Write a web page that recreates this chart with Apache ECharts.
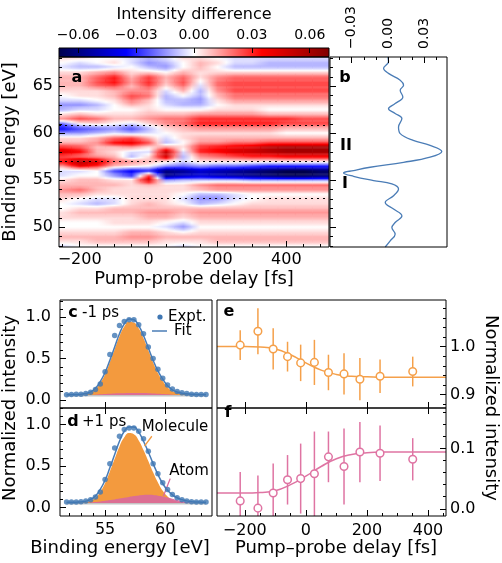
<!DOCTYPE html>
<html><head><meta charset="utf-8">
<script src="https://cdn.jsdelivr.net/npm/echarts@6/dist/echarts.min.js"></script>
<style>html,body{margin:0;padding:0;background:#fff}#chart{width:502px;height:563px}</style>
</head><body><div id="chart"></div>
<script>
// ---------------- DATA ----------------
// Panel a: delay columns (fs), energy rows (eV), difference in units of 0.01
const heatDelays = [-250,-200,-150,-100,-50,0,50,100,150,200,250,300,350,400,450,500];
const heatEnergies = [68.0,67.5,67.0,66.5,66.0,65.5,65.0,64.5,64.0,63.5,63.0,62.5,62.0,61.5,61.0,60.5,60.0,59.5,59.0,58.5,58.0,57.5,57.0,56.5,56.0,55.5,55.0,54.5,54.0,53.5,53.0,52.5,52.0,51.5,51.0,50.5,50.0,49.5,49.0,48.5,48.0];
const heatRows = [
 [0.5,0.5,0,0,-0.5,-1,-0.5,0.5,0.5,0,-0.5,-0.5,-0.5,-0.5,-0.5,-0.5],
 [0,-0.5,0,0.5,-0.5,-1.5,-1,0,1,0.5,-0.5,-0.5,-1,-1,-1,-1],
 [-0.5,-1,-1,-0.5,0,-1,-1.5,0,1,0,-1,-1,-1,-1,-1,-1],
 [0.5,0.5,1,1.5,0.5,0.5,0,1,0.5,0.5,0.5,0.5,0.5,0.5,0.5,0.5],
 [1,1,2,3,1,2.5,1,2,0.5,1.5,2,2,2,2,2,2],
 [1,1,2.5,3.5,1.5,3,1,2.5,0,2,2.5,2.5,2.5,2.5,2.5,2.5],
 [1,1,2,2.5,1,2.5,0.5,2,-0.5,2,2.5,2.5,2.5,2.5,2.5,2.5],
 [0.5,0.5,0.5,1,1.5,1.5,-0.5,1,-1,1.5,2.5,2.5,2.5,2.5,2.5,2.5],
 [0,0.5,0.5,1,2.5,2,-1,0,-1,1,2,2,2,2,2,2],
 [-0.5,-0.5,0,0.5,2,1,-1,-1,-1.5,0.5,1.5,1.5,1.5,1.5,1.5,1.5],
 [-1.5,-1.5,-1,0,1,0.5,-0.5,-1,-1,0,0.5,0.5,0.5,0.5,0.5,0.5],
 [-1,-0.5,-0.5,0,0,0.5,0,0,0,0.5,0.5,0.5,0,0,0,0],
 [0.5,1,0.5,0.5,0.5,1,1,1,1.5,1.5,1.5,1.5,1,1,1,1],
 [1.5,2.5,2,1,1,1.5,2,2,3,3,3,3,3,3,2.5,2.5],
 [-2,0,0.5,0,-0.5,0.5,1.5,2,3,3,3,3,3,2.5,2.5,2.5],
 [-3.5,-2.5,-2,-1.5,-2.5,-1,0.5,1,1.5,1.5,1.5,1.5,1.5,1,1,1],
 [-1.5,-1.5,-1,-0.5,-1,-0.5,0,0.5,0.5,0.5,0.5,0.5,0.5,0,0,0],
 [0.5,0.5,1,2,2.5,1,-0.5,0.5,1,1,1,1,1,1,1,1],
 [1,1,1.5,3.5,4,2.5,-1,0,1.5,1.5,2,2,2.5,2.5,2.5,2.5],
 [3,2.5,1,1,1.5,0.5,1.5,0.5,3,3.5,4,4.5,5.5,6,6,6],
 [4.5,3.5,1,0.5,-0.5,-0.5,5,-0.5,3,3.5,4.5,5,5.5,6,6,6],
 [2.5,2,1.5,1,-1,0.5,4.5,-1,1.5,2,2.5,3,3,3.5,3.5,3.5],
 [3.5,5.5,4.5,2,1.5,1,0.5,-0.5,0.5,0.5,0.5,0.5,0.5,0.5,0.5,0.5],
 [1.5,4,3,1,0.5,0,-1.5,-2,-1.5,-2,-2,-2.5,-3,-3,-3,-3],
 [-0.5,-0.5,0,-2.5,-3.5,-3,-6,-5.5,-4.5,-5,-5.5,-6,-6.5,-7,-7,-6.5],
 [-0.5,0,0,-1.5,-3,2.5,-6,-5,-4.5,-5,-5.5,-6,-6.5,-7,-7,-6.5],
 [0.5,1,1,0.5,0.5,4.5,-1.5,-1,-1,-1,-1,-1.5,-1.5,-1.5,-1.5,-1.5],
 [1,1,1,1,0.5,1,0.5,0.5,1.5,2,2,2,2,2,2,2],
 [1.5,2,1,0.5,0.5,0.5,0.5,0.5,1,1.5,1.5,1.5,1.5,1.5,1.5,1.5],
 [1,1,0.5,0.5,0.5,0.5,0.5,0,-1,-1,-0.5,0,0,0,0,0],
 [0.5,0,-0.5,-0.5,0.5,0.5,0.5,-0.5,-1.5,-1.5,-0.5,0,0.5,0.5,0.5,0.5],
 [0,-0.5,-1,-0.5,0.5,1,0.5,0,-1,-0.5,0,0.5,0.5,0.5,0.5,0.5],
 [0,0.5,0.5,1,1,1,1,1,1,1,1,1,1,1,1,1],
 [0.5,1,1,1,1,1.5,1.5,1,1.5,1.5,1.5,1.5,1.5,1.5,1.5,1.5],
 [0.5,0.5,0.5,0.5,0.5,1,1,0.5,1,1,1,1,1,1,1,1],
 [0,0,0,0.5,0.5,0.5,0,-0.5,0.5,0.5,0.5,0.5,0.5,0.5,0.5,0.5],
 [0,0,0,0,0,0,-0.5,-1.5,0,0,0,0,0,0,0,0],
 [0.5,0.5,0.5,0.5,1,1,0.5,0,0.5,0.5,0.5,0.5,0.5,0.5,0.5,0.5],
 [1,1,1,1,1.5,1.5,1,1,1,1,1,1,1,1,1,1],
 [0.5,0.5,1,1,1,1,0.5,0.5,0.5,1,1,1,1,1,1,1],
 [-0.5,0,0,0,0,0,0,-0.5,0,0,0,0,0,0,0,0]
];
const dividerEnergies = [60.8, 57.0, 53.1];

// Panel b: time-integrated difference profile
const bEnergy = [68.1,67.6,66.9,66.36,65.64,65.1,64.57,63.86,63.15,62.6,62.1,61.55,60.65,59.95,59.23,58.7,58.06,57.45,56.9,56.38,56.03,55.78,55.42,54.96,54.6,54.07,53.35,52.64,51.93,51.2,50.5,49.96,49.26,48.55,47.9];
const bSignal = [0.0,0.0005,-0.0036,0.0005,0.0102,0.013,0.0102,0.0124,0.006,0.0005,0.006,0.0116,0.0088,0.0102,0.021,0.035,0.0447,0.035,0.013,-0.0147,-0.0285,-0.0368,-0.0285,-0.0119,0.0033,0.0088,0.0047,-0.0022,0.0047,0.0116,0.006,0.0033,0.006,0.0019,-0.0022];

// Panels c, d: spectra
const specEnergy = [51.8,52.2,52.6,53.0,53.4,53.8,54.2,54.6,55.0,55.4,55.8,56.2,56.6,57.0,57.4,57.8,58.2,58.6,59.0,59.4,59.8,60.2,60.6,61.0,61.4,61.8,62.2,62.6,63.0,63.4];
const specBaseline = 0.048;
const cExpt = [0.062,0.064,0.066,0.068,0.076,0.09,0.125,0.19,0.34,0.55,0.78,0.90,0.95,0.97,0.97,0.91,0.80,0.64,0.50,0.37,0.26,0.18,0.13,0.10,0.085,0.075,0.068,0.065,0.064,0.064];
const cFit = [0.062,0.063,0.064,0.067,0.075,0.095,0.14,0.22,0.33,0.48,0.64,0.80,0.92,0.98,0.97,0.90,0.78,0.63,0.48,0.35,0.25,0.17,0.12,0.095,0.08,0.072,0.067,0.065,0.064,0.063];
const cMol = [0.060,0.061,0.062,0.063,0.068,0.085,0.126,0.202,0.308,0.455,0.612,0.77,0.888,0.947,0.936,0.866,0.747,0.599,0.452,0.325,0.228,0.152,0.106,0.085,0.073,0.068,0.065,0.063,0.062,0.061];
const cAtom = [0.05,0.05,0.05,0.052,0.055,0.058,0.062,0.066,0.07,0.073,0.076,0.078,0.08,0.081,0.082,0.082,0.081,0.079,0.076,0.073,0.07,0.066,0.062,0.058,0.055,0.052,0.05,0.05,0.05,0.05];
const dExpt = [0.068,0.068,0.07,0.072,0.08,0.095,0.13,0.19,0.34,0.53,0.72,0.86,0.94,0.96,0.96,0.92,0.83,0.68,0.53,0.41,0.30,0.22,0.16,0.12,0.095,0.08,0.072,0.07,0.068,0.068];
const dFit = [0.065,0.066,0.067,0.07,0.078,0.10,0.14,0.22,0.33,0.48,0.64,0.80,0.92,0.97,0.97,0.91,0.80,0.67,0.53,0.40,0.29,0.21,0.155,0.12,0.097,0.082,0.073,0.069,0.067,0.066];
const dMol = [0.065,0.065,0.065,0.065,0.069,0.086,0.12,0.193,0.295,0.436,0.588,0.738,0.848,0.90,0.885,0.81,0.695,0.563,0.426,0.303,0.203,0.136,0.095,0.075,0.065,0.06,0.059,0.061,0.063,0.064];
const dAtom = [0.048,0.049,0.05,0.053,0.057,0.062,0.068,0.075,0.083,0.092,0.10,0.11,0.12,0.13,0.14,0.148,0.153,0.155,0.152,0.145,0.135,0.122,0.108,0.093,0.08,0.07,0.062,0.056,0.052,0.05];

// Panels e, f: kinetics
const kinDelay = [-215,-157,-107,-60,-17,28,74,125,177,243,350];
const eValue = [1.003,1.032,0.995,0.979,0.966,0.967,0.946,0.943,0.932,0.938,0.948];
const eError = [0.031,0.048,0.043,0.031,0.038,0.047,0.037,0.043,0.044,0.035,0.031];
const fValue = [0.013,0.001,0.026,0.048,0.05,0.058,0.086,0.07,0.094,0.092,0.082];
const fError = [0.048,0.054,0.049,0.041,0.058,0.07,0.042,0.063,0.05,0.046,0.035];
const fitDelay = [-291,-250,-200,-150,-100,-50,0,50,100,150,200,250,300,400,459];
const eFit = [1.0,1.0,1.0,0.999,0.995,0.983,0.966,0.951,0.942,0.938,0.937,0.936,0.936,0.936,0.936];
const fFit = [0.026,0.026,0.026,0.027,0.03,0.04,0.054,0.07,0.083,0.09,0.093,0.094,0.094,0.094,0.094];

// Tick labels
const cbTicks = [-0.06,-0.03,0,0.03,0.06];
const aDelayTicks = [-200,0,200,400];
const aEnergyTicks = [50,55,60,65];
const bTicks = [-0.03,0,0.03];
const specTicks = [55,60];
const normTicks = [0,0.5,1.0];
const eTicks = [0.9,1.0];
const fTicks = [0,0.1];
const kinTicks = [-200,0,200,400];

// ---------------- STYLE ----------------
const FONT = "'DejaVu Sans', sans-serif";
const BLUE = '#4a7cb6', DOT = '#3f77b3', ORANGE = '#f39a3e', PINK = '#d9699c', ORANGE_E = '#f5a04a', PINK_F = '#df74a3';
const seismic = ['#00004c', '#0000ff', '#ffffff', '#ff0000', '#800000'];
const seismicRGB = [[0,0,76],[0,0,255],[255,255,255],[255,0,0],[128,0,0]];
const cMin = -0.07, cMax = 0.07;

function seismicColor(v) {
  let t = (v - cMin) / (cMax - cMin);
  t = Math.max(0, Math.min(1, t)) * 4;
  const i = Math.min(3, Math.floor(t)), f = t - i;
  const a = seismicRGB[i], b = seismicRGB[i + 1];
  return 'rgb(' + a.map((x, k) => Math.round(x + (b[k] - x) * f)).join(',') + ')';
}
function range(a, b, s) { const o = []; for (let v = a; v <= b + s / 1000; v += s) o.push(+v.toFixed(6)); return o; }
function fmt(d) { return v => (v < -1e-9 ? '\u2212' : '') + Math.abs(v).toFixed(d); }
function zip(xs, ys) { return xs.map((x, i) => [x, ys[i]]); }

const layout = [
  {left: 59, top: 48, width: 270, height: 9},
  {left: 59, top: 57, width: 270, height: 190},
  {left: 330, top: 57, width: 117, height: 190},
  {left: 60, top: 300, width: 152, height: 108},
  {left: 60, top: 408, width: 152, height: 108},
  {left: 217, top: 300, width: 229, height: 108},
  {left: 217, top: 408, width: 229, height: 108}
];
const grids = layout.map((g, i) => Object.assign({}, g, {
  show: true, borderColor: '#000', borderWidth: 1, z: 10, outerBoundsMode: 'none', containLabel: false,
  backgroundColor: i === 0 ? new echarts.graphic.LinearGradient(0, 0, 1, 0,
    seismic.map((c, k) => ({offset: k / 4, color: c}))) : 'transparent'
}));

function mkAxis(gridIndex, min, max, position, ticks, len, label) {
  return {
    type: 'value', gridIndex, min, max, position, z: 12,
    axisLine: {show: false, onZero: false}, splitLine: {show: false}, minorTick: {show: false},
    axisTick: {show: true, inside: true, length: len, customValues: ticks, lineStyle: {color: '#000', width: 1}},
    axisLabel: label ? Object.assign({show: true, customValues: ticks, color: '#000', fontFamily: FONT, fontSize: 16}, label) : {show: false}
  };
}

const aMin = -260, aMax = 524, eMin = 47.9, eMax = 68.1, bMin = -0.048, bMax = 0.049;
const sMin = 51.25, sMax = 63.9, tMin = -291, tMax = 459;

const xAxis = [
  mkAxis(0, cMin, cMax, 'top', cbTicks, 5, {fontSize: 14, margin: 6, formatter: fmt(2)}),
  mkAxis(1, aMin, aMax, 'bottom', aDelayTicks, 6, {formatter: fmt(0), margin: 5}),
  mkAxis(1, aMin, aMax, 'bottom', range(-250, 500, 50), 3),
  mkAxis(2, bMin, bMax, 'top', bTicks, 6, {fontSize: 14, rotate: -90, margin: 8, formatter: fmt(2)}),
  mkAxis(2, bMin, bMax, 'top', range(-0.04, 0.04, 0.01), 3),
  mkAxis(3, sMin, sMax, 'bottom', specTicks, 6),
  mkAxis(4, sMin, sMax, 'top', specTicks, 6),
  mkAxis(4, sMin, sMax, 'bottom', specTicks, 6, {formatter: fmt(0), margin: 6}),
  mkAxis(4, sMin, sMax, 'bottom', range(52, 63, 1), 3),
  mkAxis(5, tMin, tMax, 'bottom', kinTicks, 6),
  mkAxis(6, tMin, tMax, 'top', kinTicks, 6),
  mkAxis(6, tMin, tMax, 'bottom', kinTicks, 6, {formatter: fmt(0), margin: 7}),
  mkAxis(6, tMin, tMax, 'bottom', range(-250, 450, 50), 3)
];
const yAxis = [
  {type: 'value', gridIndex: 0, min: 0, max: 1, show: false},
  mkAxis(1, eMin, eMax, 'left', aEnergyTicks, 6, {formatter: fmt(0), margin: 6}),
  mkAxis(1, eMin, eMax, 'left', range(48, 68, 1), 3),
  mkAxis(2, eMin, eMax, 'left', aEnergyTicks, 6),
  mkAxis(2, eMin, eMax, 'left', range(48, 68, 1), 3),
  mkAxis(3, -0.1, 1.21, 'left', normTicks, 6, {formatter: fmt(1), margin: 9}),
  mkAxis(3, -0.1, 1.21, 'left', range(0, 1.2, 0.1), 3),
  mkAxis(4, -0.1, 1.2, 'left', normTicks, 6, {formatter: fmt(1), margin: 9}),
  mkAxis(4, -0.1, 1.2, 'left', range(0, 1.2, 0.1), 3),
  mkAxis(5, 0.872, 1.097, 'right', eTicks, 6, {formatter: fmt(1), margin: 4}),
  mkAxis(5, 0.872, 1.097, 'right', range(0.88, 1.08, 0.02), 3),
  mkAxis(6, -0.012, 0.167, 'right', fTicks, 6, {formatter: fmt(1), margin: 4}),
  mkAxis(6, -0.012, 0.167, 'right', range(0, 0.16, 0.02), 3)
];

// heat data: [delay, energy, value, rowIndex, colIndex]
const heatData = [];
heatEnergies.forEach((E, r) => heatDelays.forEach((t, c) => heatData.push([t, E, heatRows[r][c] / 100, r, c])));
const heatStepT = heatDelays[1] - heatDelays[0];
const heatStepE = heatEnergies[0] - heatEnergies[1];
// bilinear lookup at fractional row/column index (display smoothing only)
function heatSample(rf, cf) {
  const R = heatRows.length - 1, C = heatDelays.length - 1;
  rf = Math.max(0, Math.min(R, rf)); cf = Math.max(0, Math.min(C, cf));
  const r0 = Math.floor(rf), c0 = Math.floor(cf);
  const r1 = Math.min(R, r0 + 1), c1 = Math.min(C, c0 + 1);
  const fr = rf - r0, fc = cf - c0;
  const top = heatRows[r0][c0] * (1 - fc) + heatRows[r0][c1] * fc;
  const bot = heatRows[r1][c0] * (1 - fc) + heatRows[r1][c1] * fc;
  return (top * (1 - fr) + bot * fr) / 100;
}
const SUB = 4;

function errorBarSeries(xi, yi, vals, errs, color) {
  return {
    type: 'custom', xAxisIndex: xi, yAxisIndex: yi, clip: true, silent: true, z: 5,
    data: kinDelay.map((t, i) => [t, vals[i], errs[i]]),
    renderItem: (params, api) => {
      const x = api.value(0), y = api.value(1), e = api.value(2);
      const p = api.coord([x, y]), lo = api.coord([x, y - e]), hi = api.coord([x, y + e]);
      return {type: 'group', children: [
        {type: 'line', shape: {x1: p[0], y1: lo[1], x2: p[0], y2: hi[1]}, style: {stroke: color, lineWidth: 1.5}},
        {type: 'circle', shape: {cx: p[0], cy: p[1], r: 3.8}, style: {fill: '#fff', stroke: color, lineWidth: 1.5}}
      ]};
    }
  };
}
function specSeries(ai, expt, fit, mol, atom, molLeader, atomLeader) {
  const base = {xAxisIndex: ai, yAxisIndex: ai, silent: true, animation: false};
  const mk = (leader, color) => leader ? {silent: true, symbol: ['none', 'none'], label: {show: false},
    lineStyle: {color, width: 1.3, type: 'solid'}, data: [[{coord: leader[0]}, {coord: leader[1]}]]} : undefined;
  return [
    Object.assign({type: 'line', data: zip(specEnergy, mol), smooth: true, symbol: 'none', z: 2,
      lineStyle: {width: 0}, areaStyle: {color: ORANGE, opacity: 1, origin: specBaseline}, markLine: mk(molLeader, ORANGE)}, base),
    Object.assign({type: 'line', data: zip(specEnergy, atom), smooth: true, symbol: 'none', z: 3,
      lineStyle: {width: 0}, areaStyle: {color: PINK, opacity: 0.9, origin: specBaseline}, markLine: mk(atomLeader, PINK)}, base),
    Object.assign({type: 'line', data: [[specEnergy[0], specBaseline], [specEnergy[specEnergy.length - 1], specBaseline]],
      symbol: 'none', z: 3, lineStyle: {color: '#c4c4c4', width: 1.5}}, base),
    Object.assign({type: 'line', data: zip(specEnergy, fit), smooth: true, symbol: 'none', z: 4,
      lineStyle: {color: BLUE, width: 1.5}}, base),
    Object.assign({type: 'scatter', data: zip(specEnergy, expt), symbol: 'circle', symbolSize: 5.5, z: 5,
      itemStyle: {color: DOT}}, base)
  ];
}

const series = [
  {
    type: 'custom', xAxisIndex: 1, yAxisIndex: 1, clip: true, silent: true, z: 1,
    data: heatData, encode: {x: 0, y: 1},
    renderItem: (params, api) => {
      const r = api.value(3), c = api.value(4);
      const p = api.coord([api.value(0), api.value(1)]);
      const s = api.size([heatStepT, heatStepE]);
      const children = [];
      for (let k = 0; k < SUB; k++) {
        const rf = r - 0.5 + (k + 0.5) / SUB;
        children.push({type: 'rect',
          shape: {x: p[0] - s[0] / 2, y: p[1] - s[1] / 2 + k * s[1] / SUB, width: s[0] + 0.6, height: s[1] / SUB + 0.4},
          style: {fill: new echarts.graphic.LinearGradient(0, 0, 1, 0, [
            {offset: 0, color: seismicColor(heatSample(rf, c - 0.5))},
            {offset: 0.5, color: seismicColor(heatSample(rf, c))},
            {offset: 1, color: seismicColor(heatSample(rf, c + 0.5))}])}});
      }
      return {type: 'group', children};
    }
  },
  {
    type: 'line', xAxisIndex: 1, yAxisIndex: 1, data: [], silent: true, z: 6,
    markLine: {silent: true, symbol: ['none', 'none'], label: {show: false},
      lineStyle: {color: '#000', width: 1.2, type: [2, 4]},
      data: dividerEnergies.map(E => ({yAxis: E}))}
  },
  {
    type: 'line', xAxisIndex: 3, yAxisIndex: 3, data: zip(bSignal, bEnergy), smooth: 0.4, symbol: 'none',
    silent: true, lineStyle: {color: BLUE, width: 1.3}
  },
  ...specSeries(5, cExpt, cFit, cMol, cAtom, null, null),
  ...specSeries(7, dExpt, dFit, dMol, dAtom, [[58.89, 0.86], [58.28, 0.74]], [[60.42, 0.35], [59.86, 0.14]]),
  {type: 'line', xAxisIndex: 9, yAxisIndex: 9, data: zip(fitDelay, eFit), smooth: true, symbol: 'none', silent: true,
    lineStyle: {color: ORANGE_E, width: 1.5}},
  errorBarSeries(9, 9, eValue, eError, ORANGE_E),
  {type: 'line', xAxisIndex: 11, yAxisIndex: 11, data: zip(fitDelay, fFit), smooth: true, symbol: 'none', silent: true,
    lineStyle: {color: PINK_F, width: 1.5}},
  errorBarSeries(11, 11, fValue, fError, PINK_F)
];

function txt(x, y, text, size, o) {
  o = o || {};
  const al = o.align || 'center';
  return {type: 'text', x, y, rotation: o.rot || 0, z: 30, silent: true,
    style: {text, fontSize: size, fontFamily: FONT, fontWeight: o.bold ? 'bold' : 'normal', fill: '#000',
      align: al, textAlign: al, verticalAlign: 'middle', textVerticalAlign: 'middle'}};
}
const graphic = [
  txt(194, 15, 'Intensity difference', 16),
  txt(194, 279, 'Pump-probe delay [fs]', 18),
  txt(10, 152, 'Binding energy [eV]', 18, {rot: Math.PI / 2}),
  txt(120, 548, 'Binding energy [eV]', 18),
  txt(336, 548, 'Pump\u2013probe delay [fs]', 18),
  txt(10, 408, 'Normalized intensity', 18, {rot: Math.PI / 2}),
  txt(491, 408, 'Normalized intensity', 18, {rot: -Math.PI / 2}),
  txt(77, 78, 'a', 16, {bold: true}),
  txt(345, 78, 'b', 16, {bold: true}),
  txt(346, 146, 'II', 16, {bold: true}),
  txt(345, 184, 'I', 16, {bold: true}),
  txt(73, 313, 'c', 16, {bold: true}),
  txt(82, 313, '-1 ps', 15, {align: 'left'}),
  txt(73, 422, 'd', 16, {bold: true}),
  txt(82, 422, '+1 ps', 15, {align: 'left'}),
  txt(229, 312, 'e', 16, {bold: true}),
  txt(228, 413, 'f', 16, {bold: true}),
  {type: 'circle', shape: {cx: 160, cy: 317, r: 2.6}, style: {fill: DOT}, z: 30},
  txt(168, 317, 'Expt.', 15, {align: 'left'}),
  {type: 'line', shape: {x1: 152, y1: 331, x2: 167, y2: 331}, style: {stroke: BLUE, lineWidth: 1.5}, z: 30},
  txt(174, 331, 'Fit', 15, {align: 'left'}),
  txt(175, 427, 'Molecule', 15),
  txt(189, 471, 'Atom', 15)
];

const chart = echarts.init(document.getElementById('chart'), null, {renderer: 'canvas', width: 502, height: 563});
chart.setOption({
  animation: false,
  backgroundColor: '#fff',
  textStyle: {fontFamily: FONT},
  grid: grids,
  xAxis, yAxis,
  series,
  graphic
});
</script></body></html>
